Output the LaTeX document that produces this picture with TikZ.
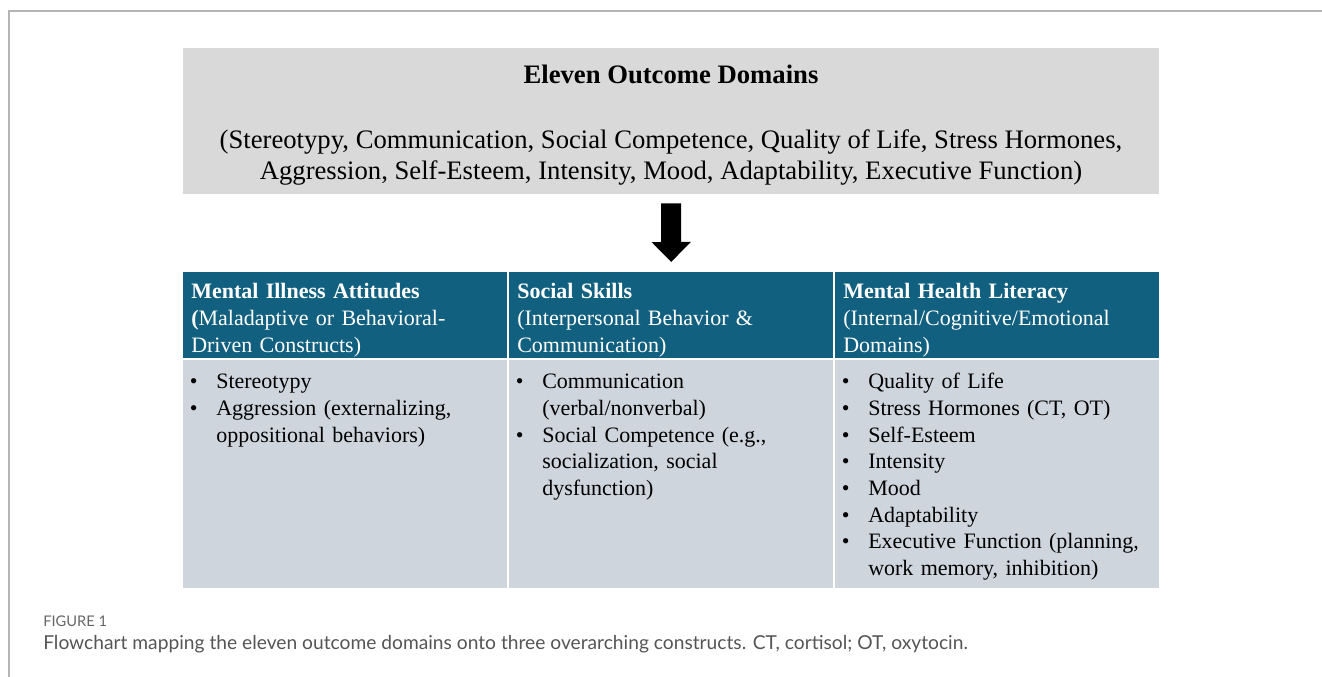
\documentclass[tikz,border=0pt]{standalone}
\usepackage{fontspec}
\setmainfont{Liberation Serif}
\newfontfamily\legenda{Lato}
\usetikzlibrary{arrows.meta}

\definecolor{cinzatopo}{RGB}{217,217,217}
\definecolor{cabecalho}{RGB}{18,96,128}
\definecolor{fundo}{RGB}{207,213,221}
\definecolor{moldura}{RGB}{180,180,180}
\definecolor{corlegenda}{RGB}{85,85,85}

% 1 pixel da figura
\def\px{0.75pt}

% Lista com marcadores
\newenvironment{marcadores}{\begin{list}{\textbullet}{%
  \setlength\leftmargin{24.75pt}\setlength\labelsep{14pt}\setlength\labelwidth{10pt}%
  \setlength\itemsep{0pt}\setlength\parsep{0pt}\setlength\topsep{0pt}\setlength\partopsep{0pt}}}%
  {\end{list}}

\tikzset{
  caixatopo/.style={fill=cinzatopo, minimum width=976*\px, minimum height=146*\px, inner sep=0pt},
  textotopo/.style={inner sep=0pt, align=center, font=\fontsize{20}{23.25}\selectfont},
  cab/.style={fill=cabecalho, anchor=north west, minimum width=324*\px, minimum height=86*\px, inner sep=0pt},
  corpo/.style={fill=fundo, anchor=north west, minimum width=324*\px, minimum height=228*\px, inner sep=0pt},
  textocab/.style={anchor=north west, inner sep=0pt, text width=308*\px, align=left, text=white,
    font=\fontsize{16.5}{20.25}\selectfont},
  textocorpo/.style={anchor=north west, inner sep=0pt, text width=320*\px, align=left,
    font=\fontsize{16.5}{20}\selectfont},
  seta/.style={line width=15pt, -{Triangle[width=28.5pt,length=15pt]}, shorten <=6.75pt, shorten >=7.5pt},
}

\begin{document}
\begin{tikzpicture}[x=0.75pt,y=-0.75pt]

\useasboundingbox (0,0) rectangle (1322,677);

% Moldura
\draw[moldura, line width=1pt] (1322,11) -- (9,11) -- (9,677);

% Caixa de cima
\node[caixatopo] (domains) at (671,121) {};
\node[textotopo] (dtxt) at ([yshift=-4*\px]domains.center)
  {{\bfseries Eleven Outcome Domains}\\[26pt]
  (Stereotypy, Communication, Social Competence, Quality of Life, Stress Hormones,\\
  Aggression, Self-Esteem, Intensity, Mood, Adaptability, Executive Function)};

% Celulas da tabela
\foreach \i/\nome in {0/A,1/B,2/C} {
  \pgfmathsetmacro{\xa}{183+\i*326}
  \node[cab] (h\nome) at (\xa,272) {};
  \node[corpo] (b\nome) at (\xa,360) {};
}

% Cabecalhos
\node[textocab] (tA) at ([shift={(8,11)}]hA.north west)
  {\textbf{Mental Illness Attitudes}\\\textbf{(}Maladaptive or Behavioral-\\Driven Constructs)};
\node[textocab] (tB) at ([shift={(8,11)}]hB.north west)
  {\textbf{Social Skills}\\(Interpersonal Behavior \&\\Communication)};
\node[textocab] (tC) at ([shift={(8,11)}]hC.north west)
  {\textbf{Mental Health Literacy}\\(Internal/Cognitive/Emotional\\Domains)};

% Itens
\node[textocorpo] (iA) at ([shift={(0,2)}]bA.north west) {\begin{marcadores}
  \item Stereotypy
  \item Aggression (externalizing,\\oppositional behaviors)
\end{marcadores}};
\node[textocorpo] (iB) at ([shift={(0,2)}]bB.north west) {\begin{marcadores}
  \item Communication\\(verbal/nonverbal)
  \item Social Competence (e.g.,\\socialization, social\\dysfunction)
\end{marcadores}};
\node[textocorpo] (iC) at ([shift={(0,2)}]bC.north west) {\begin{marcadores}
  \item Quality of Life
  \item Stress Hormones (CT, OT)
  \item Self-Esteem
  \item Intensity
  \item Mood
  \item Adaptability
  \item Executive Function (planning,\\work memory, inhibition)
\end{marcadores}};

% Seta
\draw[seta] (domains) -- (hB);

% Legenda
\node[anchor=base west, inner sep=0pt, text=corlegenda!90, font=\legenda\fontsize{11}{13}\selectfont]
  (fig) at (43,626) {FIGURE 1};
\node[anchor=base west, inner sep=0pt, text=corlegenda, font=\legenda\fontsize{14.4}{17}\selectfont]
  (legenda) at (43,649) {Flowchart mapping the eleven outcome domains onto three overarching constructs. CT, cortisol; OT, oxytocin.};

\end{tikzpicture}
\end{document}
